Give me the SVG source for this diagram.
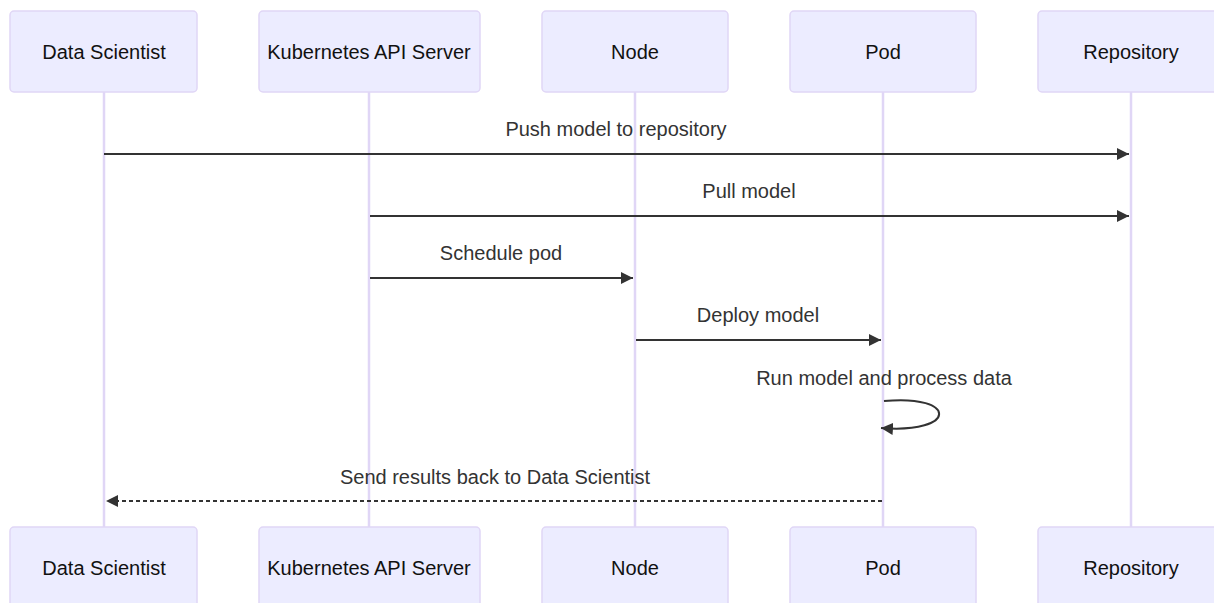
<svg xmlns="http://www.w3.org/2000/svg" width="1214" height="603" viewBox="0 0 1214 603">
<style>
.actor rect{fill:#ECECFF;stroke:#e0d6f6;stroke-width:1.5}
.actor text,.msg{font-family:"Liberation Sans",Arial,sans-serif;font-size:20px;fill:#333;text-anchor:middle}
.actor text{dominant-baseline:central;fill:#111}
.life{stroke:#e0d6f6;stroke-width:2.5}
.line{stroke:#333;stroke-width:2;fill:none}
.dash{stroke-dasharray:4 3}
</style>
<defs>
<marker id="arrow" viewBox="0 0 10 10" refX="10" refY="5" markerWidth="12" markerHeight="12" markerUnits="userSpaceOnUse" orient="auto">
<path d="M0,0 L10,5 L0,10 z" fill="#333"/>
</marker>
</defs>
<rect width="1214" height="603" fill="#fff"/>
<g id="lifelines">
<line class="life" x1="104" y1="92" x2="104" y2="527"/>
<line class="life" x1="369" y1="92" x2="369" y2="527"/>
<line class="life" x1="635" y1="92" x2="635" y2="527"/>
<line class="life" x1="883" y1="92" x2="883" y2="527"/>
<line class="life" x1="1131" y1="92" x2="1131" y2="527"/>
</g>
<g id="actor-ds-top" class="actor"><rect x="10" y="11" width="187" height="81" rx="4"/><text x="104" y="52">Data Scientist</text></g>
<g id="actor-k8s-top" class="actor"><rect x="259" y="11" width="221" height="81" rx="4"/><text x="369" y="52">Kubernetes API Server</text></g>
<g id="actor-node-top" class="actor"><rect x="542" y="11" width="186" height="81" rx="4"/><text x="635" y="52">Node</text></g>
<g id="actor-pod-top" class="actor"><rect x="790" y="11" width="186" height="81" rx="4"/><text x="883" y="52">Pod</text></g>
<g id="actor-repo-top" class="actor"><rect x="1038" y="11" width="186" height="81" rx="4"/><text x="1131" y="52">Repository</text></g>
<g id="actor-ds-bottom" class="actor"><rect x="10" y="527" width="187" height="81" rx="4"/><text x="104" y="568">Data Scientist</text></g>
<g id="actor-k8s-bottom" class="actor"><rect x="259" y="527" width="221" height="81" rx="4"/><text x="369" y="568">Kubernetes API Server</text></g>
<g id="actor-node-bottom" class="actor"><rect x="542" y="527" width="186" height="81" rx="4"/><text x="635" y="568">Node</text></g>
<g id="actor-pod-bottom" class="actor"><rect x="790" y="527" width="186" height="81" rx="4"/><text x="883" y="568">Pod</text></g>
<g id="actor-repo-bottom" class="actor"><rect x="1038" y="527" width="186" height="81" rx="4"/><text x="1131" y="568">Repository</text></g>
<g id="connectors">
<line class="line" x1="104" y1="154" x2="1129" y2="154" marker-end="url(#arrow)"/>
<line class="line" x1="370" y1="216" x2="1129" y2="216" marker-end="url(#arrow)"/>
<line class="line" x1="370" y1="278" x2="633" y2="278" marker-end="url(#arrow)"/>
<line class="line" x1="636" y1="340" x2="881" y2="340" marker-end="url(#arrow)"/>
<path class="line" d="M884,401 C958,394 958,434 881,428" marker-end="url(#arrow)"/>
<line class="line dash" x1="882" y1="501" x2="106" y2="501" marker-end="url(#arrow)"/>
</g>
<g id="labels">
<text class="msg" x="616" y="136">Push model to repository</text>
<text class="msg" x="749" y="198">Pull model</text>
<text class="msg" x="501" y="260">Schedule pod</text>
<text class="msg" x="758" y="322">Deploy model</text>
<text class="msg" x="884" y="385">Run model and process data</text>
<text class="msg" x="495" y="484">Send results back to Data Scientist</text>
</g>
</svg>
